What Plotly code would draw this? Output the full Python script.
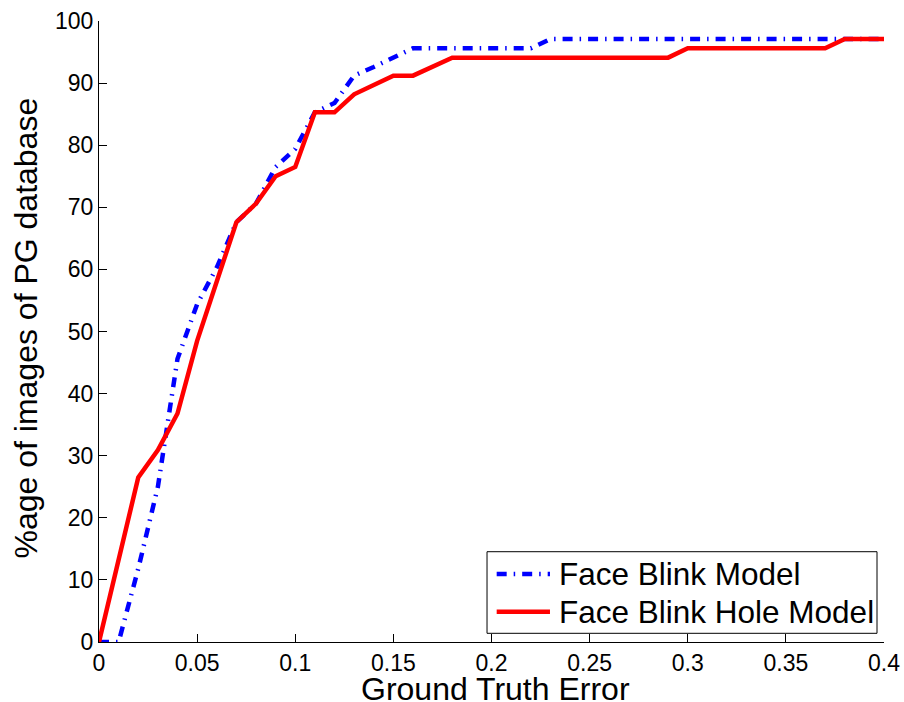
import plotly.graph_objects as go

# Ground truth error thresholds
error_x = [0.00, 0.01, 0.02, 0.03, 0.04, 0.05, 0.06, 0.07, 0.08, 0.09,
           0.10, 0.11, 0.12, 0.13, 0.14, 0.15, 0.16, 0.17, 0.18, 0.19,
           0.20, 0.21, 0.22, 0.23, 0.24, 0.25, 0.26, 0.27, 0.28, 0.29,
           0.30, 0.31, 0.32, 0.33, 0.34, 0.35, 0.36, 0.37, 0.38, 0.39, 0.40]

face_blink = [0, 0, 11.8, 25.0, 45.6, 54.4, 60.3, 67.6, 70.6, 76.5,
              79.4, 85.3, 86.8, 91.2, 92.6, 94.1, 95.6, 95.6, 95.6, 95.6,
              95.6, 95.6, 95.6, 97.1, 97.1, 97.1, 97.1, 97.1, 97.1, 97.1,
              97.1, 97.1, 97.1, 97.1, 97.1, 97.1, 97.1, 97.1, 97.1, 97.1, 97.1]

face_blink_hole = [0, 13.2, 26.5, 30.9, 36.8, 48.5, 58.0, 67.6, 70.6, 75.0,
                   76.5, 85.3, 85.3, 88.2, 89.7, 91.2, 91.2, 92.6, 94.1, 94.1,
                   94.1, 94.1, 94.1, 94.1, 94.1, 94.1, 94.1, 94.1, 94.1, 94.1,
                   95.6, 95.6, 95.6, 95.6, 95.6, 95.6, 95.6, 95.6, 97.1, 97.1, 97.1]

series_names = ["Face Blink Model", "Face Blink Hole Model"]
series_colors = ["#0000FF", "#FF0000"]
series_dash = ["10px,7px,1.5px,7px", "solid"]

x_ticks = [0, 0.05, 0.1, 0.15, 0.2, 0.25, 0.3, 0.35, 0.4]
x_tick_labels = ["0", "0.05", "0.1", "0.15", "0.2", "0.25", "0.3", "0.35", "0.4"]
y_ticks = [0, 10, 20, 30, 40, 50, 60, 70, 80, 90, 100]

x_title = "Ground Truth Error"
y_title = "%age of images of PG database"

FONT = "Liberation Sans, Arial, Helvetica, sans-serif"
LW = 4.5

fig = go.Figure()
for ys, name, col, dash in zip([face_blink, face_blink_hole], series_names, series_colors, series_dash):
    fig.add_trace(go.Scatter(
        x=error_x, y=ys, mode="lines", name=name, showlegend=False,
        line=dict(color=col, width=LW, dash=dash),
    ))

axis_common = dict(
    showgrid=False, zeroline=False, showline=True, linecolor="black", linewidth=1,
    ticks="inside", ticklen=8, tickcolor="black", tickwidth=1,
    tickfont=dict(family=FONT, size=23, color="black"),
)

# custom legend (MATLAB-style long line samples), in paper coordinates
leg_box = dict(x0=0.4943, x1=0.9911, y0=0.0140, y1=0.1454)
leg_rows_y = [0.1095, 0.0488]
leg_line_x = [0.5066, 0.5745]
leg_text_x = 0.5831

shapes = [dict(type="rect", xref="paper", yref="paper", layer="above",
               line=dict(color="black", width=1), fillcolor="white", **leg_box)]
annotations = []
for ry, name, col, dash in zip(leg_rows_y, series_names, series_colors, series_dash):
    shapes.append(dict(type="line", xref="paper", yref="paper", layer="above",
                       x0=leg_line_x[0], x1=leg_line_x[1], y0=ry, y1=ry,
                       line=dict(color=col, width=LW, dash=dash)))
    annotations.append(dict(xref="paper", yref="paper", x=leg_text_x, y=ry,
                            xanchor="left", yanchor="middle", showarrow=False,
                            text=name, font=dict(family=FONT, size=31.5, color="black")))

# axis titles placed like the MATLAB original
annotations.append(dict(xref="paper", yref="paper", x=0.5057, y=-0.0757,
                        xanchor="center", yanchor="middle", showarrow=False,
                        text=x_title, font=dict(family=FONT, size=32, color="black")))
annotations.append(dict(xref="paper", yref="paper", x=-0.093, y=0.5064,
                        xanchor="center", yanchor="middle", showarrow=False, textangle=-90,
                        text=y_title, font=dict(family=FONT, size=32, color="black")))

fig.update_layout(
    width=904, height=702,
    margin=dict(l=99, r=20, t=21, b=60),
    paper_bgcolor="white", plot_bgcolor="white",
    font=dict(family=FONT, color="black"),
    xaxis=dict(range=[0, 0.4], tickvals=x_ticks, ticktext=x_tick_labels,
               automargin=False, **axis_common),
    yaxis=dict(range=[0, 100], tickvals=y_ticks,
               automargin=False, **axis_common),
    shapes=shapes,
    annotations=annotations,
    showlegend=False,
)

fig.write_html("out.html", config={"displayModeBar": False},
               post_script="document.body.style.margin='0';document.body.style.padding='0';")
